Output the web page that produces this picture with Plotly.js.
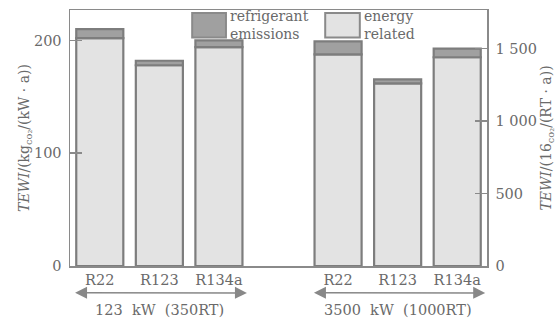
<!DOCTYPE html>
<html><head><meta charset="utf-8">
<script src="https://cdn.plot.ly/plotly-3.0.1.min.js"></script>
<style>html,body{margin:0;padding:0;background:#fff}#c{width:556px;height:320px}</style>
</head><body><div id="c"></div>
<script>
const refrigerants = ["R22", "R123", "R134a"];
const groups = ["123\u00a0 kW\u00a0 (350RT)", "3500\u00a0 kW\u00a0 (1000RT)"];
const xSmall = [0, 1, 2];
const xLarge = [4, 5, 6];
// kg CO2 / (kW·a)
const energySmall = [202, 178, 194];
const emissionsSmall = [8, 4, 6];
// per (RT·a)
const energyLarge = [1460, 1260, 1440];
const emissionsLarge = [90, 28, 60];
const legendNames = ["refrigerant<br>emissions", "energy<br>related"];
const leftTicks = [0, 100, 200];
const rightTicks = [0, 500, 1000, 1500];
const rightTickText = ["0", "500", "1 000", "1 500"];

const F = "DejaVu Serif, serif";
const TXT = "#6a6a6a";
const LINE = "#8a8a8a";
const LIGHT = "#e3e3e3";
const DARK = "#a0a0a0";

function bar(x, y, base, fill, axis) {
  return {type: "bar", x: x, y: y, base: base, yaxis: axis, width: 0.79,
    marker: {color: fill, line: {color: "#7d7d7d", width: 2.2}},
    showlegend: false, hoverinfo: "skip"};
}
const traces = [
  bar(xSmall, energySmall, null, LIGHT, "y"),
  bar(xSmall, emissionsSmall, energySmall, DARK, "y"),
  bar(xLarge, energyLarge, null, LIGHT, "y2"),
  bar(xLarge, emissionsLarge, energyLarge, DARK, "y2")
];

const tickFont = {family: F, size: 14.5, color: TXT};
const legFont = {family: F, size: 14, color: TXT};
function legText(x, t) {
  return {xref: "paper", yref: "paper", x: x, y: 0.94, xanchor: "left", yanchor: "middle",
    text: t, showarrow: false, align: "left", borderpad: 0, font: legFont};
}
const layout = {
  width: 556, height: 320,
  margin: {l: 70, r: 69, t: 10, b: 54},
  paper_bgcolor: "#fff", plot_bgcolor: "#fff",
  barmode: "overlay",
  xaxis: {range: [-0.5, 6.5], tickvals: xSmall.concat(xLarge),
    ticktext: refrigerants.concat(refrigerants), ticks: "",
    showline: true, linecolor: LINE, linewidth: 1.5, mirror: true,
    showgrid: false, zeroline: false, tickfont: tickFont, ticklabelstandoff: 0},
  yaxis: {range: [0, 227], tickvals: leftTicks, ticks: "inside", ticklen: 12,
    tickcolor: LINE, tickwidth: 1.5, showline: true, linecolor: LINE, linewidth: 1.5,
    showgrid: false, zeroline: false, tickfont: tickFont, ticklabelstandoff: 4,
    title: {text: "<i>TEWI</i>/(kg<sub>co₂</sub>/(kW · a))", font: {family: F, size: 14, color: TXT}, standoff: 0}},
  yaxis2: {range: [0, 1766], overlaying: "y", side: "right", tickvals: rightTicks,
    ticktext: rightTickText, ticks: "inside", ticklen: 12,
    tickcolor: LINE, tickwidth: 1.5, showline: true, linecolor: LINE, linewidth: 1.5,
    showgrid: false, zeroline: false, tickfont: tickFont, ticklabelstandoff: 4,
    title: {text: "<i>TEWI</i>/(16<sub>co₂</sub>/(RT · a))", font: {family: F, size: 14, color: TXT}, standoff: 6}},
  shapes: [
    {type: "rect", xref: "paper", yref: "paper", x0: 0.293, x1: 0.374, y0: 0.893, y1: 0.988,
      fillcolor: DARK, line: {color: "#8a8a8a", width: 2}},
    {type: "rect", xref: "paper", yref: "paper", x0: 0.612, x1: 0.695, y0: 0.893, y1: 0.988,
      fillcolor: LIGHT, line: {color: "#8a8a8a", width: 2}}
  ],
  annotations: [
    legText(0.382, legendNames[0]),
    legText(0.703, legendNames[1]),
    {xref: "x", yref: "paper", x: 2.47, y: -0.105, axref: "x", ayref: "y domain",
      ax: -0.44, ay: -0.105, text: "", showarrow: true, arrowside: "end+start",
      arrowhead: 2, arrowsize: 1.6, arrowwidth: 1.5, arrowcolor: "#888"},
    {xref: "x", yref: "paper", x: 6.47, y: -0.105, axref: "x", ayref: "y domain",
      ax: 3.57, ay: -0.105, text: "", showarrow: true, arrowside: "end+start",
      arrowhead: 2, arrowsize: 1.6, arrowwidth: 1.5, arrowcolor: "#888"},
    {xref: "x", yref: "paper", x: 1, y: -0.172, yanchor: "middle", text: groups[0],
      showarrow: false, font: tickFont},
    {xref: "x", yref: "paper", x: 5, y: -0.172, yanchor: "middle", text: groups[1],
      showarrow: false, font: tickFont}
  ]
};
Plotly.newPlot("c", traces, layout, {staticPlot: true, displayModeBar: false});
</script></body></html>
